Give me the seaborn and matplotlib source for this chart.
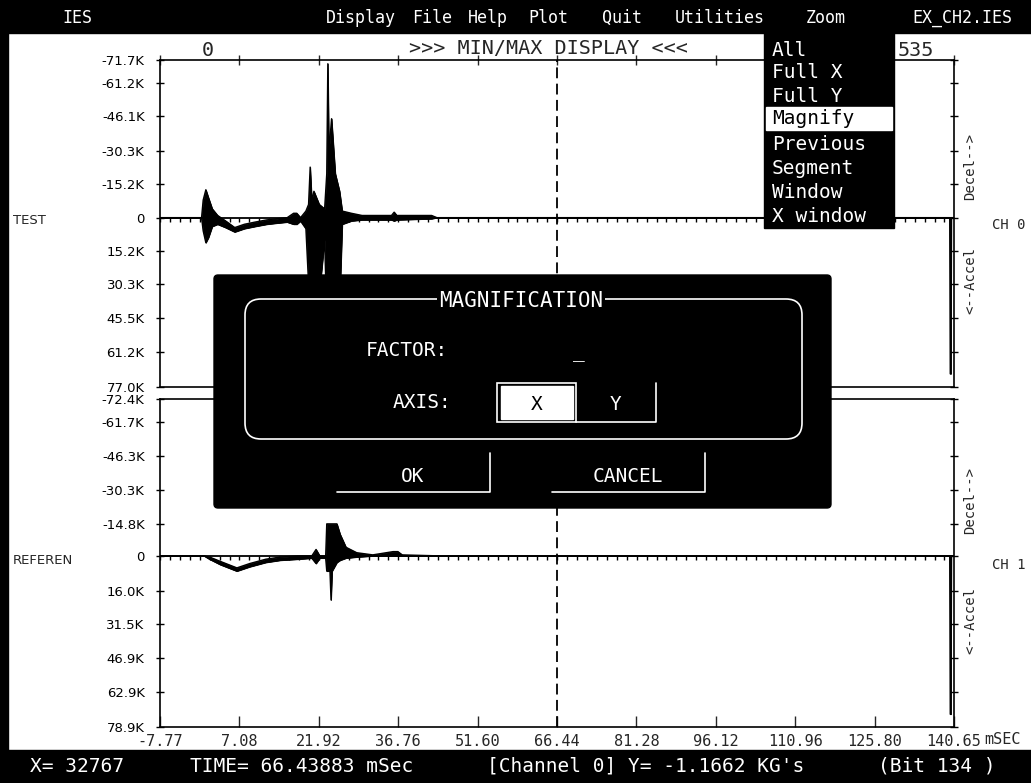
import numpy as np
import pandas as pd
import matplotlib.pyplot as plt
import seaborn as sns
from matplotlib.patches import Rectangle, FancyBboxPatch

sns.set_style("white")
plt.rcParams['font.family'] = ['DejaVu Sans Mono']
plt.rcParams['axes.unicode_minus'] = False

# time axis (mSec)
time_ticks = [-7.77, 7.08, 21.92, 36.76, 51.60, 66.44, 81.28, 96.12, 110.96, 125.80, 140.65]
cursor_time = 66.44

# y ticks in K G's (first/last = frame edges), negative = Decel (up)
test_ticks = [-71.7, -61.2, -46.1, -30.3, -15.2, 0, 15.2, 30.3, 45.5, 61.2, 77.0]
ref_ticks = [-72.4, -61.7, -46.3, -30.3, -14.8, 0, 16.0, 31.5, 46.9, 62.9, 78.9]

# min/max envelope of channel 0 (TEST)
test_time = [-7.77, 0.0, 0.3, 0.8, 1.3, 2.0, 3.0, 4.5, 6.2, 8.0, 10.0, 12.2, 14.0, 16.0,
             17.2, 17.8, 18.5, 19.5, 20.0, 20.3, 20.6, 21.0, 22.0, 23.0, 23.4, 23.6, 23.8,
             24.3, 25.0, 25.8, 26.3, 28.0, 30.0, 35.5, 36.0, 36.5, 43.0, 44.0,
             139.85, 139.95, 140.05, 140.15, 140.65]
test_min = [0, 0, -8, -12.7, -9, -4, -1, 1.5, 4.5, 3, 2, 1, 0.5, 0,
            -2, -2, 0, -3, -6, -23, -8, -12, -6, -4, -20, -70, -30,
            -45, -20, -12, -3, -2, -1, -1, -2.5, -1, -1, 0,
            0, 0, 0, 0, 0]
test_max = [0, 0, 6, 11.4, 9, 4, 3, 4.5, 6.5, 5, 4, 3, 2.5, 2,
            3, 3, 1.5, 5, 30, 40, 40, 40, 35, 10, 45, 45, 45,
            45, 45, 40, 3, 1.5, 1, 1, 1.5, 1, 0.5, 0,
            0, 71, 71, 0, 0]

# min/max envelope of channel 1 (REFERENCE)
ref_time = [-7.77, 0.5, 1.5, 3.5, 6.6, 9.0, 12.0, 14.7, 18.0, 20.6, 21.4, 22.1, 23.2,
            23.4, 24.0, 24.2, 24.4, 25.3, 25.9, 27.0, 29.0, 32.0, 35.8, 36.7, 37.5, 45.0,
            139.85, 139.95, 140.05, 140.15, 140.65]
ref_min = [0, 0, 0.5, 2.5, 5.5, 3.5, 1.5, 0.5, 0, 0, -3, 0, 0,
           -14.8, -14.8, -14.8, -14.8, -14.8, -10, -4, -1.5, -0.5, -2, -2, -0.5, 0,
           0, 0, 0, 0, 0]
ref_max = [0, 0, 1.5, 4, 7, 5, 3, 2, 1.5, 1, 3.5, 1, 1,
           7, 7, 20.3, 7, 3, 2, 1, 0.5, 0, 0, 0, 0, 0,
           0, 73, 73, 0, 0]

W, H = 1031, 783
fig = plt.figure(figsize=(W / 100, H / 100), dpi=100)


def px_axes(l, t, r, b):
    return fig.add_axes([l / W, 1 - b / H, (r - l) / W, (b - t) / H])


def k_label(v):
    return "0" if v == 0 else f"{v:.1f}K"


ax_top = px_axes(160, 60, 954, 387)
ax_bot = px_axes(160, 399, 954, 727)

panels = [
    (ax_top, test_ticks, test_time, test_min, test_max),
    (ax_bot, ref_ticks, ref_time, ref_min, ref_max),
]
minor = np.arange(time_ticks[0], time_ticks[-1], (time_ticks[1] - time_ticks[0]) / 8)

for ax, ticks, t, lo, hi in panels:
    df = pd.DataFrame({'time': t, 'min': lo, 'max': hi})
    ax.fill_between(df['time'], df['min'], df['max'], color='black', lw=0.6)
    sns.lineplot(data=df, x='time', y='min', color='black', lw=1, ax=ax)
    sns.lineplot(data=df, x='time', y='max', color='black', lw=1, ax=ax)
    ax.axhline(0, color='black', lw=1.3)
    ax.plot(minor, np.zeros_like(minor), ls='none', marker=3, ms=3, mew=1, color='black')
    ax.axvline(cursor_time, color='black', lw=1.3, ls=(0, (6, 3)))
    ax.set_xlim(time_ticks[0], time_ticks[-1])
    ax.set_ylim(ticks[-1], ticks[0])
    ax.set_yticks(ticks)
    ax.set_yticklabels([k_label(v) for v in ticks], family='DejaVu Sans', fontsize=9.5)
    ax.set_xticks(time_ticks)
    ax.set_xlabel('')
    ax.set_ylabel('')
    for s in ax.spines.values():
        s.set_linewidth(1.2)
        s.set_color('black')
    ax.tick_params(axis='y', left=True, right=True, direction='inout', length=6,
                   width=1, pad=8, colors='black')

ax_top.tick_params(axis='x', top=True, bottom=False, labelbottom=False,
                   direction='inout', length=7, width=1)
ax_bot.tick_params(axis='x', top=False, bottom=True, direction='in', length=8,
                   width=1, labelsize=11, pad=5)
ax_bot.set_xticklabels([f"{v:.2f}" for v in time_ticks])

# screen overlay in pixel coordinates
ov = fig.add_axes([0, 0, 1, 1])
ov.set_xlim(0, W)
ov.set_ylim(H, 0)
ov.axis('off')
ov.set_zorder(10)
ov.patch.set_alpha(0)

ov.add_patch(Rectangle((0, 0), W, 33, color='black'))
ov.add_patch(Rectangle((0, 750), W, 33, color='black'))
ov.add_patch(Rectangle((0, 0), 8, H, color='black'))

menu = [("IES", 62), ("Display", 326), ("File", 412), ("Help", 468), ("Plot", 528),
        ("Quit", 602), ("Utilities", 675), ("Zoom", 806), ("EX_CH2.IES", 912)]
for label, x in menu:
    ov.text(x, 18, label, color='white', fontsize=12, ha='left', va='center')

ov.text(548, 48, ">>> MIN/MAX DISPLAY <<<", fontsize=14.5, ha='center', va='center')
ov.text(208, 50, "0", fontsize=14.5, ha='center', va='center')
ov.text(916, 50, "535", fontsize=14.5, ha='center', va='center')
ov.text(984, 740, "mSEC", fontsize=11, ha='left', va='center')

ov.text(13, 220, "TEST", family='DejaVu Sans', fontsize=9.5, ha='left', va='center')
ov.text(13, 560, "REFEREN", family='DejaVu Sans', fontsize=9.5, ha='left', va='center')
ov.text(992, 225, "CH 0", fontsize=10, ha='left', va='center')
ov.text(992, 565, "CH 1", fontsize=10, ha='left', va='center')
for y, s in [(167, "Decel-->"), (280, "<--Accel"), (500, "Decel-->"), (620, "<--Accel")]:
    ov.text(970, y, s, fontsize=10, rotation=90, ha='center', va='center')

# status line
ov.text(30, 766, "X= 32767", color='white', fontsize=14, va='center')
ov.text(190, 766, "TIME= 66.43883 mSec", color='white', fontsize=14, va='center')
ov.text(487, 766, "[Channel 0] Y= -1.1662 KG's", color='white', fontsize=14, va='center')
ov.text(878, 766, "(Bit 134 )", color='white', fontsize=14, va='center')

# Zoom drop-down
ov.add_patch(Rectangle((764, 33), 130, 195, color='black'))
ov.add_patch(Rectangle((766, 107), 126, 23, color='white'))
items = [("All", 50), ("Full X", 73), ("Full Y", 96), ("Magnify", 119),
         ("Previous", 145), ("Segment", 169), ("Window", 193), ("X window", 217)]
for label, y in items:
    ov.text(772, y, label, color='black' if label == "Magnify" else 'white',
            fontsize=14, ha='left', va='center')

# magnification dialog
ov.add_patch(FancyBboxPatch((214, 275), 617, 233, boxstyle="round,pad=0,rounding_size=4",
                            color='black'))
ov.add_patch(FancyBboxPatch((245, 299), 557, 140, boxstyle="round,pad=0,rounding_size=16",
                            fc='none', ec='white', lw=1.2))
ov.text(521, 301, "MAGNIFICATION", color='white', fontsize=15, ha='center', va='center',
        bbox=dict(fc='black', ec='none', pad=1))
ov.text(366, 350, "FACTOR:", color='white', fontsize=14, ha='left', va='center')
ov.text(579, 352, "_", color='white', fontsize=14, ha='center', va='center')
ov.text(393, 403, "AXIS:", color='white', fontsize=14, ha='left', va='center')
ov.add_patch(Rectangle((497, 383), 79, 39, fc='none', ec='white', lw=1.2))
ov.add_patch(Rectangle((501, 386), 72, 33, color='white'))
ov.text(537, 404, "X", color='black', fontsize=14, ha='center', va='center')
ov.plot([576, 656, 656], [422, 422, 383], color='white', lw=1.2)
ov.text(616, 404, "Y", color='white', fontsize=14, ha='center', va='center')
ov.plot([337, 490, 490], [492, 492, 453], color='white', lw=1.2)
ov.text(413, 476, "OK", color='white', fontsize=14, ha='center', va='center')
ov.plot([552, 705, 705], [492, 492, 453], color='white', lw=1.2)
ov.text(628, 476, "CANCEL", color='white', fontsize=14, ha='center', va='center')

fig.savefig("out.png", dpi=100, facecolor='white')
